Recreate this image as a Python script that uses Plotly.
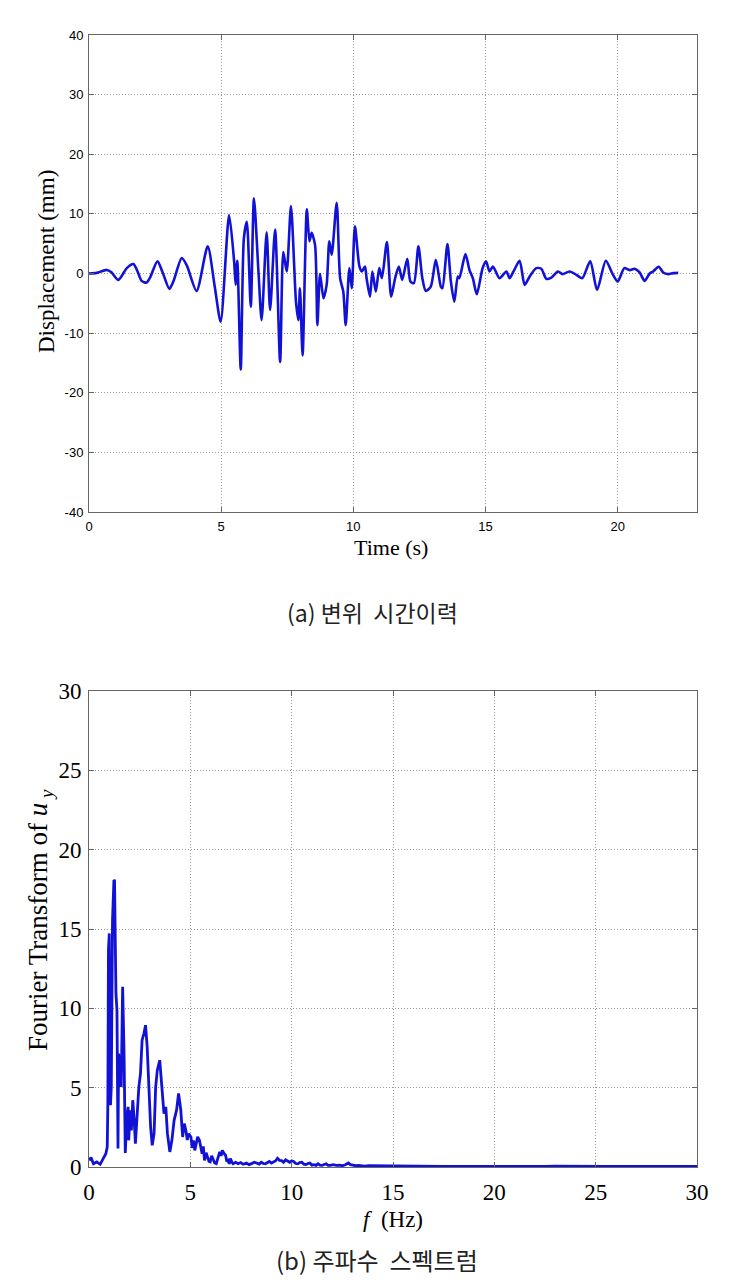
import plotly.graph_objects as go

# ---------------- data: (a) displacement time history ----------------
time_s = [0.00, 0.29, 0.67, 0.85, 1.11, 1.43, 1.68, 1.85, 1.99, 2.18, 2.31, 2.59, 2.80, 3.04, 3.19,
          3.51, 3.70, 4.07, 4.49, 4.75, 4.98, 5.30, 5.49, 5.55, 5.61, 5.74, 5.86, 5.97, 6.12, 6.24,
          6.41, 6.53, 6.72, 6.85, 7.04, 7.23, 7.35, 7.48, 7.64, 7.83, 7.92, 7.98, 8.08, 8.24, 8.34,
          8.42, 8.55, 8.64, 8.74, 8.87, 8.99, 9.09, 9.18, 9.37, 9.50, 9.62, 9.71, 9.85, 9.94, 10.06,
          10.23, 10.32, 10.44, 10.50, 10.63, 10.72, 10.85, 10.98, 11.08, 11.27, 11.43, 11.58, 11.72,
          11.85, 12.04, 12.16, 12.29, 12.46, 12.61, 12.74, 12.93, 13.12, 13.31, 13.37, 13.56, 13.69,
          13.82, 13.95, 14.01, 14.24, 14.39, 14.52, 14.67, 14.89, 15.02, 15.15, 15.28, 15.53, 15.79,
          15.91, 16.06, 16.29, 16.48, 16.67, 16.92, 17.11, 17.30, 17.49, 17.74, 17.91, 18.18, 18.44,
          18.66, 18.96, 19.22, 19.55, 19.81, 20.00, 20.25, 20.45, 20.64, 20.83, 21.02, 21.21, 21.34,
          21.55, 21.72, 21.91, 22.10, 22.29]
disp_mm = [0.0, 0.1, 0.6, 0.2, -1.07, 0.9, 1.58, 0.2, -1.24, -1.52, -0.68, 2.03, 0.0, -2.59, -1.35,
           2.59, 1.35, -2.93, 4.56, -2.0, -8.1, 9.79, 2.03, -1.91, 2.14, -16.09, 5.96, 8.66, -5.57, 12.6,
           0.34, -7.82, 6.92, -6.13, 7.37, -14.85, 3.6, 0.34, 11.31, -4.73, -7.82, -2.48, -13.73, 10.75, 5.4,
           6.81, 4.84, -8.66, -0.06, -4.16, -1.91, 5.4, 3.15, 11.87, -0.79, -3.04, -8.66, 0.9, -2.48, 7.93,
           1.18, 0.34, 1.18, -0.79, -3.88, 0.34, -3.04, 0.9, -0.79, 5.29, -3.88, -0.79, 1.18,
           -1.07, 2.48, -1.35, -1.63, 4.56, -0.79, -2.93, -2.2, 2.31, -2.2, -2.48, 4.95, -1.35,
           -4.73, -0.51, -0.79, 3.26, 0.62, -0.79, -3.49, 0.9, 2.03, 0.34, 1.18, -0.79, 0.34,
           -0.79, 0.34, 2.14, -1.91, -0.51, 0.9, 0.79, -0.9, -0.68, 0.34, -0.11, 0.34, -0.23,
           -0.79, 2.03, -2.76, 2.14, -0.11, -1.35, 0.9, 0.56, 0.79, 0.17, -1.24, 0.0, 0.34,
           1.13, 0.17, -0.11, 0.06, 0.11]

# ---------------- data: (b) frequency spectrum ----------------
freq_hz = [0.00, 0.10, 0.22, 0.38, 0.55, 0.71, 0.83, 0.90, 0.93, 0.96, 1.00, 1.03, 1.06, 1.10, 1.13,
           1.16, 1.23, 1.26, 1.30, 1.33, 1.38, 1.43, 1.46, 1.53, 1.59, 1.63, 1.66, 1.73, 1.76, 1.79,
           1.86, 1.93, 1.96, 2.03, 2.09, 2.16, 2.23, 2.29, 2.38, 2.46, 2.54, 2.62, 2.71, 2.79, 2.87,
           2.96, 3.04, 3.12, 3.21, 3.29, 3.37, 3.49, 3.59, 3.70, 3.79, 3.87, 3.99, 4.09, 4.20, 4.32,
           4.42, 4.53, 4.62, 4.70, 4.78, 4.85, 4.92, 5.03, 5.09, 5.15, 5.22, 5.28, 5.36, 5.45, 5.52,
           5.58, 5.64, 5.70, 5.78, 5.86, 5.92, 5.98, 6.05, 6.11, 6.20, 6.28, 6.36, 6.45, 6.52, 6.58,
           6.66, 6.74, 6.80, 6.86, 6.92, 6.98, 7.05, 7.11, 7.24, 7.36, 7.48, 7.61, 7.77, 7.90, 8.02,
           8.15, 8.27, 8.40, 8.5, 8.6, 8.7, 8.8, 8.9, 9.0, 9.1, 9.2, 9.3, 9.4, 9.5, 9.6, 9.7, 9.8,
           9.9, 10.0, 10.1, 10.2, 10.3, 10.4, 10.5, 10.6, 10.7, 10.8, 10.9, 11.0, 11.1, 11.2, 11.3,
           11.4, 11.5, 11.6, 11.7, 11.8, 11.9, 12.05, 12.2, 12.35, 12.5, 12.65, 12.8, 12.9, 13.0,
           13.15, 13.3, 13.45, 13.6, 13.8, 14.0, 14.25, 14.5, 14.75, 15.0, 15.5, 16.0, 16.5, 17.0,
           17.5, 18.0, 18.5, 19.0, 19.5, 20.0, 20.5, 21.0, 21.5, 22.0, 22.5, 23.0, 23.5, 24.0, 24.5,
           25.0, 25.5, 26.0, 26.5, 27.0, 27.5, 28.0, 28.5, 29.0, 29.5, 30.0]
fourier_amp = [0.42, 0.59, 0.21, 0.32, 0.17, 0.53, 0.84, 1.26, 4.0, 13.67, 14.72, 9.25, 3.89, 5.05, 13.46,
               15.56, 18.09, 18.04, 13.88, 10.94, 9.88, 1.16, 7.15, 6.31, 5.05, 11.36, 11.36, 7.15, 4.0, 0.88,
               2.94, 3.79, 1.68, 3.58, 2.31, 4.21, 2.94, 1.47, 3.36, 5.05, 5.89, 7.99, 8.41, 8.94, 7.57,
               5.05, 2.52, 1.37, 2.10, 5.05, 6.10, 6.73, 5.26, 3.36, 3.79, 2.10, 0.95, 1.68, 2.94, 3.58,
               4.63, 3.58, 1.89, 2.73, 2.31, 1.70, 2.10, 1.89, 1.20, 1.68, 1.05, 1.37, 1.90, 1.68, 1.10,
               0.84, 1.30, 0.42, 0.90, 0.63, 0.35, 0.32, 0.70, 0.53, 0.25, 0.21, 0.60, 0.95, 0.70, 1.05,
               0.85, 0.74, 0.35, 0.42, 0.20, 0.53, 0.30, 0.21, 0.30, 0.21, 0.28, 0.17, 0.25, 0.15, 0.21,
               0.30, 0.25, 0.18, 0.3, 0.22, 0.2, 0.28, 0.35, 0.25, 0.3, 0.38, 0.55, 0.42, 0.4, 0.3, 0.45, 0.35,
               0.3, 0.38, 0.35, 0.22, 0.2, 0.28, 0.3, 0.18, 0.15, 0.22, 0.25, 0.12, 0.15, 0.1, 0.2,
               0.12, 0.1, 0.16, 0.2, 0.1, 0.1, 0.15, 0.1, 0.12, 0.08, 0.14, 0.25, 0.15, 0.12,
               0.08, 0.1, 0.07, 0.06, 0.08, 0.08, 0.05, 0.05, 0.06, 0.06, 0.04, 0.04, 0.05, 0.05,
               0.04, 0.03, 0.04, 0.04, 0.03, 0.03, 0.04, 0.04, 0.03, 0.03, 0.04, 0.05, 0.04, 0.03, 0.03,
               0.03, 0.04, 0.04, 0.03, 0.03, 0.04, 0.04, 0.03, 0.03, 0.03, 0.03]

time_ticks = [0, 5, 10, 15, 20]
disp_ticks = [-40, -30, -20, -10, 0, 10, 20, 30, 40]
disp_tick_labels = ["-40", "-30", "-20", "-10", "0", "10", "20", "30", "40"]
freq_ticks = [0, 5, 10, 15, 20, 25, 30]
amp_ticks = [0, 5, 10, 15, 20, 25, 30]

BLUE = "rgb(18,18,215)"
W, H = 731, 1286
SANS = "Liberation Sans, Arial, sans-serif"
SERIF = "Liberation Serif, Times New Roman, serif"
KR = "Noto Sans CJK KR, sans-serif"

fig = go.Figure()
fig.add_trace(go.Scatter(x=time_s, y=disp_mm, mode="lines", xaxis="x", yaxis="y",
                         line=dict(color=BLUE, width=2.6, shape="spline", smoothing=0.7),
                         showlegend=False, hoverinfo="skip"))
fig.add_trace(go.Scatter(x=freq_hz, y=fourier_amp, mode="lines", xaxis="x2", yaxis="y2",
                         line=dict(color=BLUE, width=2.8), showlegend=False, hoverinfo="skip"))

def ax(**kw):
    d = dict(showline=True, linecolor="#666", linewidth=1, mirror="ticks", ticks="inside",
             ticklen=5, tickcolor="#666", showgrid=True, gridcolor="#9a9a9a", griddash="1px,2px",
             gridwidth=1, zeroline=False, automargin=False)
    d.update(kw)
    return d

def py(p):
    return 1 - p / H

fig.update_layout(
    width=W, height=H, margin=dict(l=0, r=0, t=0, b=0, autoexpand=False),
    paper_bgcolor="white", plot_bgcolor="white",
    xaxis=ax(domain=[89 / W, 697 / W], range=[0, 23], tickvals=time_ticks, anchor="y",
             tickfont=dict(family=SANS, size=13, color="black"), ticklabelstandoff=2),
    yaxis=ax(domain=[py(512), py(35)], range=[-40, 40], tickvals=disp_ticks,
             ticktext=disp_tick_labels, anchor="x",
             tickfont=dict(family=SANS, size=13, color="black"), ticklabelstandoff=2),
    xaxis2=ax(domain=[89 / W, 697 / W], range=[0, 30], tickvals=freq_ticks, anchor="y2",
              tickfont=dict(family=SERIF, size=23, color="black"), ticklabelstandoff=4),
    yaxis2=ax(domain=[py(1167), py(691)], range=[0, 30], tickvals=amp_ticks, anchor="x2",
              tickfont=dict(family=SERIF, size=23, color="black"), ticklabelstandoff=2),
)

def ann(text, x, y, size, family, angle=0, color="black"):
    fig.add_annotation(text=text, x=x / W, y=py(y), xref="paper", yref="paper",
                       xanchor="center", yanchor="middle", showarrow=False, textangle=angle,
                       font=dict(family=family, size=size, color=color))

ann("Displacement (mm)", 46, 262, 23, SERIF, angle=-90)
ann("Time (s)", 391, 547, 22, SERIF)
ann("(a) 변위  시간이력", 372, 612, 23, KR, color="#222")
ann("Fourier Transform of <i>u</i><sub> <i>y</i></sub>", 40, 920, 27, SERIF, angle=-90)
ann("<i>f</i>  (Hz)", 393, 1219, 23, SERIF)
ann("(b) 주파수  스펙트럼", 377, 1259, 24, KR, color="#222")

fig.write_html("out.html")
